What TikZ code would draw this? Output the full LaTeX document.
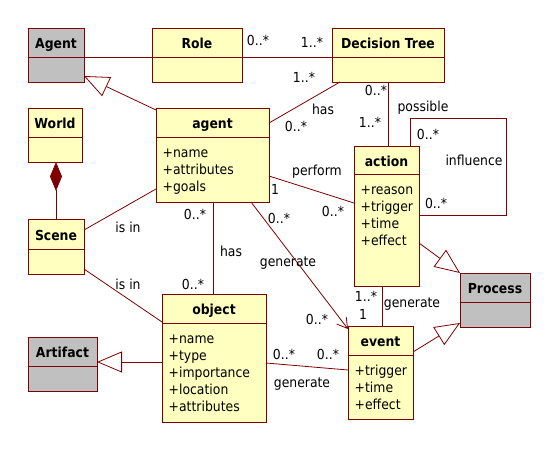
\documentclass[tikz,border=0pt]{standalone}
\usepackage{fontspec}
\setmainfont{DejaVu Sans}[FakeStretch=0.9]
\usetikzlibrary{arrows.meta,calc}
\definecolor{umlline}{RGB}{128,0,0}
\definecolor{umlfill}{RGB}{255,255,192}
\definecolor{umlgray}{RGB}{192,192,192}
\newcommand\umlfont{\fontsize{13.8pt}{16pt}\selectfont}
% name, x1, y1, x2, y2, divider y, title, fill, attributes
\newcommand\umlbox[9]{%
  \node[box, fill=#8, minimum width={(#4-#2)*1pt}, minimum height={(#5-#3)*1pt}] (#1) at ({(#2+#4)/2},{(#3+#5)/2}) {};
  \draw[boxline] (#1.west |- 0,#6) -- (#1.east |- 0,#6);
  \node[ttl] (#1-t) at ({(#2+#4)/2},{(#3+#6)/2+6}) {#7};
  \if\relax\detokenize{#9}\relax\else
  \foreach \a [count=\i] in {#9} {\node[attr] (#1-a\i) at ({#2+6.5},{#6+20.5+17*(\i-1)}) {\a};}%
  \fi
}
\begin{document}
\begin{tikzpicture}[x=1pt,y=-1pt,
  box/.style={draw=umlline, line width=0.9pt, rectangle, inner sep=0pt, outer sep=0pt},
  boxline/.style={draw=umlline, line width=0.9pt},
  conn/.style={draw=umlline, line width=0.8pt},
  gen/.style={conn, -{Triangle[open, length=25pt, width=21pt]}},
  nav/.style={conn, -{Straight Barb[length=10pt, width=12pt]}},
  comp/.style={conn, {Diamond[length=29pt, width=12pt]}-},
  lbl/.style={inner sep=0pt, font=\umlfont},
  ttl/.style={inner sep=0pt, anchor=base, font=\bfseries\umlfont},
  attr/.style={inner sep=0pt, anchor=base west, font=\umlfont}]
\useasboundingbox[fill=white] (0,0) rectangle (560,452);

% classes
\umlbox{Agent}{28}{28}{84}{82}{57}{Agent}{umlgray}{}
\umlbox{Role}{152}{28}{242}{82}{57}{Role}{umlfill}{}
\umlbox{DT}{332}{28}{444}{82}{57}{Decision Tree}{umlfill}{}
\umlbox{World}{28}{108}{82}{162}{137}{World}{umlfill}{}
\umlbox{agent}{156}{108}{269}{202}{137}{agent}{umlfill}{+name,+attributes,+goals}
\umlbox{Scene}{28}{219}{84}{274}{249}{Scene}{umlfill}{}
\umlbox{action}{354}{146}{419}{286}{174}{action}{umlfill}{+reason,+trigger,+time,+effect}
\umlbox{Process}{460}{273}{530}{327}{302}{Process}{umlgray}{}
\umlbox{object}{162}{294}{266}{422}{323}{object}{umlfill}{+name,+type,+importance,+location,+attributes}
\umlbox{Artifact}{28}{337}{97}{391}{366}{Artifact}{umlgray}{}
\umlbox{event}{348}{326}{413}{419}{355}{event}{umlfill}{+trigger,+time,+effect}

% connectors
\draw[conn] (Agent.east |- 0,57) -- (Role.west |- 0,57);
\draw[conn] (Role.east |- 0,57) -- (DT.west |- 0,57);
\draw[gen] (agent.west |- 0,110) -- (Agent.east |- 0,76);
\draw[conn] (agent.east |- 0,123) -- (DT.south -| 340,0);
\draw[conn] (DT.south -| 388,0) -- (action.north -| 388,0);
\draw[conn] (action.north -| 410,0) |- (506,118) |- (action.east |- 0,215);
\draw[conn] (agent.east |- 0,176) -- (action.west |- 0,203);
\draw[comp] (Scene.north |- World.south) -- (Scene.north);
\draw[conn] (Scene.east |- 0,230) -- (agent.west |- 0,189);
\draw[conn] (Scene.east |- 0,269) -- (object.west |- 0,322);
\draw[conn] (agent.south -| 213,0) -- (object.north -| 213,0);
\draw[nav] (agent.south -| 251,0) -- (event.west |- 0,329);
\draw[conn] (action.south -| 382,0) -- (event.north -| 382,0);
\draw[conn] (object.east |- 0,363) -- (event.west |- 0,370);
\draw[gen] (action.east |- 0,243) -- (Process.north west);
\draw[gen] (event.east |- 0,352) -- (Process.west |- 0,323);
\draw[gen] (object.west |- 0,362) -- (Artifact.east |- 0,362);

% labels
\node[lbl] (l1) at (258,40) {0..*};
\node[lbl] (l2) at (312,42) {1..*};
\node[lbl] (l3) at (304,77) {1..*};
\node[lbl] (l4) at (323,109) {has};
\node[lbl] (l5) at (296,126) {0..*};
\node[lbl] (l6) at (376,90) {0..*};
\node[lbl] (l7) at (370,122) {1..*};
\node[lbl] (l8) at (423,108) {possible};
\node[lbl] (l9) at (428,134) {0..*};
\node[lbl] (l10) at (474,160) {influence};
\node[lbl] (l11) at (436,203) {0..*};
\node[lbl] (l12) at (317,172) {perform};
\node[lbl] (l13) at (333,211) {0..*};
\node[lbl] (l14) at (275,189) {1};
\node[lbl] (l15) at (195,214) {0..*};
\node[lbl] (l16) at (128,227) {is in};
\node[lbl] (l17) at (231,251) {has};
\node[lbl] (l18) at (279,218) {0..*};
\node[lbl] (l19) at (288,263) {generate};
\node[lbl] (l20) at (128,284) {is in};
\node[lbl] (l21) at (193,284) {0..*};
\node[lbl] (l22) at (366,296) {1..*};
\node[lbl] (l23) at (412,304) {generate};
\node[lbl] (l24) at (363,314) {1};
\node[lbl] (l25) at (317,319) {0..*};
\node[lbl] (l26) at (284,354) {0..*};
\node[lbl] (l27) at (328,354) {0..*};
\node[lbl] (l28) at (302,384) {generate};
\end{tikzpicture}
\end{document}
